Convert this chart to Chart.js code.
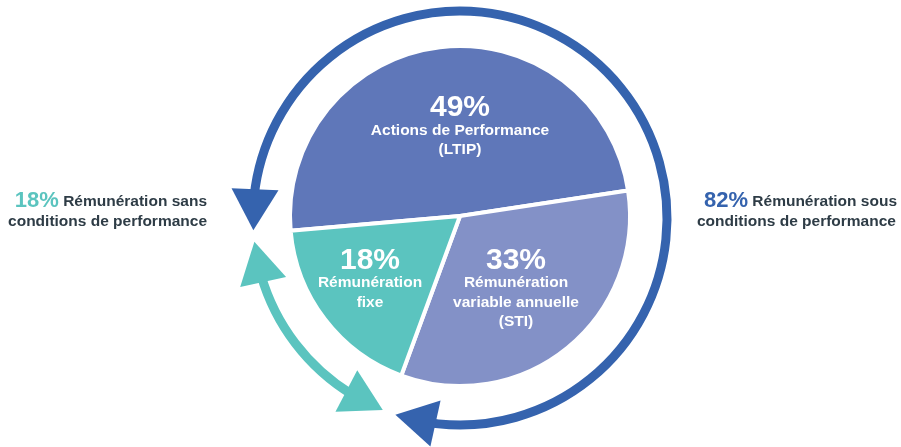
<!DOCTYPE html>
<html><head><meta charset="utf-8">
<script src="https://cdn.jsdelivr.net/npm/chart.js@4.4.0/dist/chart.umd.min.js"></script>
<style>html,body{margin:0;padding:0;background:#fff;} #wrap{width:901px;height:447px;}</style>
</head><body><div id="wrap"><canvas id="c" width="901" height="447"></canvas></div>
<script>
// ---- data ----
const categories = ['Actions de Performance (LTIP)', 'Rémunération variable annuelle (STI)', 'Rémunération fixe'];
const values = [49, 33, 18];
const sliceLines = [['Actions de Performance', '(LTIP)'], ['Rémunération', 'variable annuelle', '(STI)'], ['Rémunération', 'fixe']];
const groupLeftLines = ['Rémunération sans', 'conditions de performance'];
const groupRightLines = ['Rémunération sous', 'conditions de performance'];
const leftValue = values[2];
const rightValue = values[0] + values[1];

// ---- styles ----
const sliceColors = ['#5f77b9', '#8391c7', '#5bc4bf'];
const BLUE = '#3563ae', TEAL = '#5bc4bf', DARK = '#2e3c46';
const FONT = '"Liberation Sans", Arial, Helvetica, sans-serif';
const SMALL = 'bold 15.5px ' + FONT;

const decor = {
  id: 'decor',
  afterDatasetsDraw(chart) {
    const ctx = chart.ctx;
    const a0 = chart.getDatasetMeta(0).data[0];
    const cx = a0.x, cy = a0.y;
    const deg = Math.PI / 180;
    const R = 207, acx = cx, acy = cy + 2;

    function head(base, tip) {
      const bx = acx + R * Math.cos(base * deg), by = acy + R * Math.sin(base * deg);
      const tx = acx + R * Math.cos(tip * deg), ty = acy + R * Math.sin(tip * deg);
      let dx = tx - bx, dy = ty - by; const L = Math.hypot(dx, dy); dx /= L; dy /= L;
      const nx = -dy, ny = dx, hw = 23.5;
      ctx.beginPath();
      ctx.moveTo(tx, ty);
      ctx.lineTo(bx + nx * hw, by + ny * hw);
      ctx.lineTo(bx - nx * hw, by - ny * hw);
      ctx.closePath();
      ctx.fill();
    }
    function arrowArc(color, s, e, tipS, tipE) {
      ctx.save();
      ctx.strokeStyle = color; ctx.fillStyle = color; ctx.lineWidth = 9; ctx.lineCap = 'butt';
      ctx.beginPath();
      ctx.arc(acx, acy, R, (s - 2) * deg, (e + 2) * deg, false);
      ctx.stroke();
      head(s, tipS); head(e, tipE);
      ctx.restore();
    }
    arrowArc(BLUE, 188, 456.8, 176.6, 468.2);
    arrowArc(TEAL, 123.3, 162, 111.9, 173.4);

    // slice labels
    ctx.save();
    ctx.fillStyle = '#ffffff';
    ctx.textAlign = 'center';
    ctx.textBaseline = 'middle';
    const pos = [
      {dx: 0, pct: -108, lines: [-85, -66]},
      {dx: 56, pct: 45, lines: [67, 87, 106]},
      {dx: -90, pct: 45, lines: [67, 87]}
    ];
    values.forEach((v, i) => {
      const p = pos[i];
      ctx.font = 'bold 30px ' + FONT;
      ctx.fillText(v + '%', cx + p.dx, cy + p.pct);
      ctx.font = SMALL;
      sliceLines[i].forEach((t, j) => ctx.fillText(t, cx + p.dx, cy + p.lines[j]));
    });
    ctx.restore();

    // side labels
    ctx.save();
    ctx.textBaseline = 'middle';
    ctx.textAlign = 'left';
    const bigL = leftValue + '%';
    ctx.font = 'bold 22px ' + FONT; const wBig = ctx.measureText(bigL).width;
    ctx.font = SMALL; const wRest = ctx.measureText(' ' + groupLeftLines[0]).width;
    let x = 207 - wRest - wBig;
    ctx.font = 'bold 22px ' + FONT; ctx.fillStyle = TEAL; ctx.fillText(bigL, x, 201);
    ctx.font = SMALL; ctx.fillStyle = DARK; ctx.fillText(' ' + groupLeftLines[0], x + wBig, 202);
    ctx.textAlign = 'right';
    ctx.fillText(groupLeftLines[1], 207, 222);
    ctx.textAlign = 'left';
    const bigR = rightValue + '%';
    ctx.font = 'bold 22px ' + FONT; const wBigR = ctx.measureText(bigR).width;
    ctx.fillStyle = BLUE; ctx.fillText(bigR, 704, 201);
    ctx.font = SMALL; ctx.fillStyle = DARK;
    ctx.fillText(' ' + groupRightLines[0], 704 + wBigR, 202);
    ctx.fillText(groupRightLines[1], 697, 222);
    ctx.restore();
  }
};

new Chart(document.getElementById('c'), {
  type: 'pie',
  data: {
    labels: categories,
    datasets: [{
      data: values,
      backgroundColor: sliceColors,
      borderColor: '#ffffff',
      borderWidth: 4,
      hoverOffset: 0
    }]
  },
  options: {
    responsive: false,
    animation: false,
    rotation: 265,
    layout: {padding: {top: 44, bottom: 59, left: 288, right: 269}},
    plugins: {legend: {display: false}, tooltip: {enabled: false}}
  },
  plugins: [decor]
});
</script>
</body></html>
